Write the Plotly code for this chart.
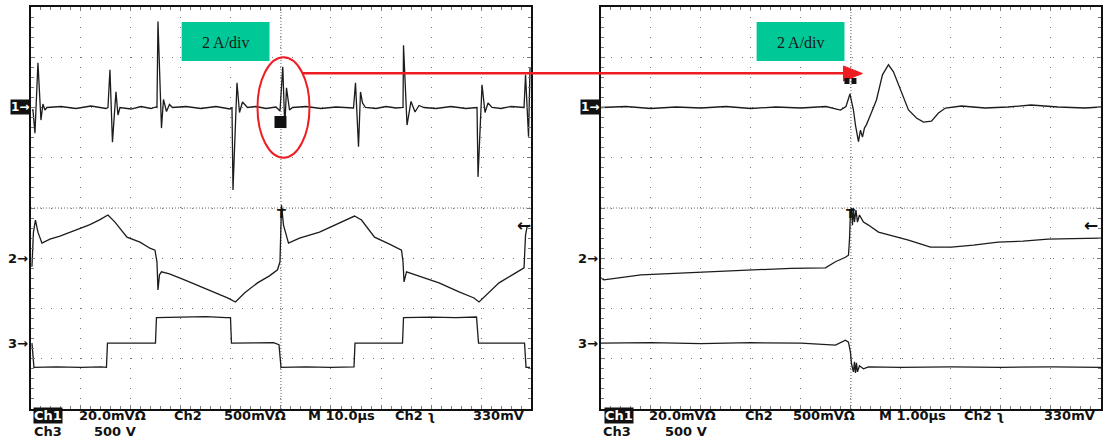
import plotly.graph_objects as go

W, H = 1103, 441

# ---------------- data (time in us, value in screen divisions) ----------------
# Left capture: 10 us/div
ch1_left_t = [-49.8, -49.6, -49.2, -48.6, -48.0, -47.6, -47.2, -46.8, -44, -41, -38, -35,
              -34.6, -34.2, -33.7, -33.0, -32.6, -32.2, -30, -28, -26, -25,
              -24.8, -24.6, -23.9, -23.5, -22.9, -22.3, -21.7, -19, -16, -13, -10.2,
              -9.8, -9.6, -8.8, -8.3, -7.7, -6.7, -5, -3, -1, -0.2,
              0.36, 0.76, 1.1, 1.7, 2.3, 5, 8, 11, 14.5,
              14.9, 15.5, 15.9, 16.3, 16.9, 19, 21, 23, 24.4,
              24.5, 25.2, 26.0, 26.8, 27.6, 28.6, 31, 34, 37, 39.2,
              39.4, 40.2, 40.8, 41.4, 42.2, 44, 46, 48.6,
              48.9, 49.5, 49.8]
ch1_left_v = [1.95, 1.95, 1.49, 2.89, 1.75, 2.07, 1.95, 2.0, 2.02, 1.98, 2.03, 1.98,
              2.0, 2.75, 1.31, 2.31, 1.85, 2.0, 1.97, 2.02, 1.98, 2.01,
              2.0, 3.71, 1.59, 2.16, 1.92, 2.06, 2.0, 2.02, 1.98, 2.02, 1.97,
              2.0, 0.36, 2.49, 1.90, 2.11, 2.0, 2.02, 1.98, 2.01, 1.93,
              2.81, 1.59, 2.39, 1.95, 2.0, 2.02, 1.98, 2.01, 1.99,
              2.49, 1.22, 2.31, 2.09, 2.0, 1.98, 2.02, 1.99, 2.0,
              3.24, 1.65, 2.12, 1.91, 2.04, 2.0, 1.98, 2.02, 1.98, 2.0,
              0.62, 2.45, 1.90, 2.09, 2.0, 1.98, 2.02, 2.0,
              2.65, 1.42, 2.8]

ch2_left_t = [-49.8, -49.5, -49.1, -48.6, -47.8, -46.2, -44.2, -41.2, -38.2, -36.2, -34.6,
              -33.2, -30.8, -28.2, -26.2, -25.2, -24.8, -24.6, -24.3, -23.9, -22.3,
              -19.3, -16.3, -13.3, -10.7, -9.1, -7.3, -4.7, -2.3, -0.7, -0.2,
              0.1, 0.5, 1.5, 3.7, 7.7, 11.7, 14.7, 16.1, 18.7, 21.7, 24.1, 24.4, 24.6,
              25.1, 27.6, 31.6, 35.6, 38.6, 39.6, 40.6, 43.6, 46.6, 48.6, 48.9, 49.2, 49.8]
ch2_left_v = [-1.17, -0.48, -0.24, -0.48, -0.70, -0.62, -0.56, -0.44, -0.33, -0.23, -0.14,
              -0.28, -0.58, -0.68, -0.80, -0.84, -1.07, -1.63, -1.33, -1.27, -1.31,
              -1.43, -1.55, -1.67, -1.79, -1.87, -1.69, -1.49, -1.35, -1.23, -1.07,
              0.06, -0.34, -0.70, -0.60, -0.48, -0.30, -0.16, -0.24, -0.58, -0.72, -0.84, -1.07, -1.47,
              -1.27, -1.35, -1.49, -1.67, -1.79, -1.87, -1.77, -1.49, -1.31, -1.19, -0.54, -0.38, -0.34]

ch3_left_t = [-49.8, -49.4, -45, -40, -36, -34.9, -34.7, -30, -26, -25.1, -24.9,
              -20, -15, -11, -10.1, -9.9, -5, -1.5, -0.4, 0.0, 5, 10, 14.6, 14.8,
              20, 24.3, 24.5, 30, 35, 39.1, 39.5, 45, 48.7, 49.0, 49.8]
ch3_left_v = [-2.69, -3.17, -3.16, -3.17, -3.16, -3.17, -2.69, -2.69, -2.68, -2.69, -2.18,
              -2.17, -2.16, -2.18, -2.18, -2.69, -2.69, -2.68, -2.72, -3.17, -3.16, -3.17, -3.16, -2.69,
              -2.69, -2.69, -2.18, -2.17, -2.18, -2.17, -2.69, -2.69, -2.69, -3.17, -3.17]

# Right capture: 1 us/div
ch1_right_t = [-5.0, -4.5, -4.0, -3.5, -3.0, -2.5, -2.0, -1.5, -1.0, -0.5, -0.21, -0.1,
               -0.02, 0.05, 0.09, 0.15, 0.19, 0.23, 0.27, 0.31, 0.39, 0.51, 0.63, 0.75,
               0.85, 0.99, 1.15, 1.31, 1.45, 1.61, 1.75, 1.89, 2.21, 2.68, 3.14, 3.60,
               4.14, 4.68, 5.0]
ch1_right_v = [2.0, 2.02, 1.98, 2.01, 1.99, 2.02, 1.98, 2.01, 1.99, 2.02, 1.95, 2.02,
               2.27, 1.95, 1.65, 1.32, 1.55, 1.41, 1.59, 1.66, 1.85, 2.15, 2.65, 2.85,
               2.71, 2.35, 1.95, 1.79, 1.71, 1.73, 1.89, 1.99, 2.03, 1.99, 2.01, 2.05,
               2.01, 1.99, 2.01]

ch2_right_t = [-5.0, -4.94, -4.2, -3.19, -2.5, -1.85, -1.2, -0.51, -0.31, -0.11, -0.05, -0.03,
               -0.01, 0.01, 0.03, 0.05, 0.07, 0.10, 0.13, 0.17, 0.25, 0.35, 0.55, 0.85,
               1.15, 1.59, 2.01, 2.45, 2.94, 3.44, 3.94, 4.44, 5.0]
ch2_right_v = [-1.39, -1.43, -1.33, -1.29, -1.25, -1.23, -1.20, -1.19, -1.07, -0.98, -0.94, -0.64,
               -0.08, 0.0, -0.34, 0.0, -0.28, -0.04, -0.28, -0.14, -0.28, -0.34, -0.48, -0.56,
               -0.64, -0.78, -0.78, -0.74, -0.68, -0.66, -0.62, -0.61, -0.60]

ch3_right_t = [-5.0, -4.0, -3.0, -2.0, -1.0, -0.31, -0.11, -0.05, -0.01, 0.01, 0.05, 0.07,
               0.09, 0.11, 0.13, 0.17, 0.25, 0.35, 1.0, 2.0, 3.0, 4.0, 5.0]
ch3_right_v = [-2.69, -2.68, -2.70, -2.68, -2.69, -2.73, -2.63, -2.67, -2.87, -3.10, -3.26, -3.06,
               -3.28, -3.08, -3.26, -3.14, -3.20, -3.16, -3.17, -3.16, -3.17, -3.16, -3.17]

left_readout = ["20.0mVΩ", "Ch2", "500mVΩ", "M 10.0µs", "Ch2 ʅ", "330mV"]
right_readout = ["20.0mVΩ", "Ch2", "500mVΩ", "M 1.00µs", "Ch2 ʅ", "330mV"]
ch3_scale = "500 V"
box_label = "2 A/div"

# ---------------- figure ----------------
TRACE = dict(color="#1c1c1c", width=1.3)
fig = go.Figure()
for t, v in [(ch1_left_t, ch1_left_v), (ch2_left_t, ch2_left_v), (ch3_left_t, ch3_left_v)]:
    fig.add_trace(go.Scatter(x=t, y=v, mode="lines", line=TRACE, xaxis="x", yaxis="y",
                             showlegend=False, hoverinfo="skip"))
for t, v in [(ch1_right_t, ch1_right_v), (ch2_right_t, ch2_right_v), (ch3_right_t, ch3_right_v)]:
    fig.add_trace(go.Scatter(x=t, y=v, mode="lines", line=TRACE, xaxis="x2", yaxis="y2",
                             showlegend=False, hoverinfo="skip"))

def px(x):
    return x / W

def py(y):
    return 1 - y / H

ydom = [py(409), py(7)]
xdomL = [px(31), px(532)]
xdomR = [px(602), 1.0]
GRID = "#7a7a7a"

def xax(dom, rng, dt, anchor):
    return dict(domain=dom, range=rng, anchor=anchor, showticklabels=False,
                showline=True, linecolor="#111", linewidth=2, mirror="allticks",
                ticks="inside", ticklen=4, tickcolor=GRID, tick0=0, dtick=dt,
                minor=dict(ticks="inside", ticklen=3, tickcolor=GRID, dtick=dt / 5, tick0=0, showgrid=False),
                showgrid=True, gridcolor=GRID, gridwidth=1, griddash="1px,9.02px",
                zeroline=False, fixedrange=True)

def yax(rng, anchor):
    return dict(domain=ydom, range=rng, anchor=anchor, showticklabels=False,
                showline=True, linecolor="#111", linewidth=2, mirror="allticks",
                ticks="inside", ticklen=4, tickcolor=GRID, tick0=0, dtick=1,
                minor=dict(ticks="inside", ticklen=3, tickcolor=GRID, dtick=0.2, tick0=0, showgrid=False),
                showgrid=True, gridcolor=GRID, gridwidth=1, griddash="1px,9.05px",
                zeroline=False, fixedrange=True)

yc_px = 208
def cross_x(over, rng, dt):
    return dict(overlaying=over, anchor="free", position=py(yc_px + 2), side="bottom", range=rng,
                showticklabels=False, showline=False, showgrid=False, zeroline=False,
                ticks="outside", ticklen=4, tickcolor="#555", tick0=0, dtick=dt / 5, fixedrange=True)

def cross_y(over, xc):
    return dict(overlaying=over, anchor="free", position=px(xc + 2), side="left", range=[-4, 4],
                showticklabels=False, showline=False, showgrid=False, zeroline=False,
                ticks="outside", ticklen=4, tickcolor="#555", tick0=0, dtick=0.2, fixedrange=True)

fig.update_layout(
    width=W, height=H, margin=dict(l=0, r=0, t=0, b=0),
    paper_bgcolor="white", plot_bgcolor="white",
    xaxis=xax(xdomL, [-50, 50], 10, "y"),
    yaxis=yax([-4, 4], "x"),
    xaxis2=xax(xdomR, [-5, 5], 1, "y2"),
    yaxis2=yax([-4, 4], "x2"),
    xaxis3=cross_x("x", [-50, 50], 10),
    yaxis3=cross_y("y", 281.5),
    xaxis4=cross_x("x2", [-5, 5], 1),
    yaxis4=cross_y("y2", 852.5),
)

shapes = []
anns = []
# dotted centre cross of each graticule
CROSS = dict(color="#666", width=1, dash="1px,2px")
for xr, yr in [("x", "y"), ("x2", "y2")]:
    shapes.append(dict(type="line", xref=f"{xr} domain", yref=yr, x0=0, x1=1, y0=0, y1=0,
                       line=CROSS, layer="below"))
    shapes.append(dict(type="line", xref=xr, yref=f"{yr} domain", x0=0, x1=0, y0=0, y1=1,
                       line=CROSS, layer="below"))
# green labels
for x0, x1 in [(182, 270), (758, 846)]:
    shapes.append(dict(type="rect", xref="paper", yref="paper", x0=px(x0), x1=px(x1),
                       y0=py(61), y1=py(22), fillcolor="#00C896", line=dict(width=0), layer="above"))
    anns.append(dict(text=box_label, xref="paper", yref="paper", x=px((x0 + x1) / 2), y=py(42),
                     xanchor="center", yanchor="middle", showarrow=False,
                     font=dict(family="Liberation Serif", size=16, color="#1a1a1a")))
# red ellipse and arrow
shapes.append(dict(type="circle", xref="x", yref="y", x0=-4.7, x1=5.7, y0=1.0, y1=3.0,
                   line=dict(color="#EE1D23", width=2)))
shapes.append(dict(type="line", xref="paper", yref="paper", x0=px(303), x1=px(848), y0=py(73.3), y1=py(73.3),
                   line=dict(color="#EE1D23", width=2.5)))
shapes.append(dict(type="path", xref="paper", yref="paper",
                   path=f"M {px(845)} {py(66)} L {px(864)} {py(73.5)} L {px(845)} {py(81)} Z",
                   fillcolor="#EE1D23", line=dict(color="#EE1D23", width=1)))
# trigger markers on ch1
shapes.append(dict(type="rect", xref="paper", yref="paper", x0=px(275), x1=px(287), y0=py(128), y1=py(116),
                   fillcolor="#111", line=dict(width=0)))
shapes.append(dict(type="rect", xref="paper", yref="paper", x0=px(846), x1=px(851), y0=py(84), y1=py(78),
                   fillcolor="#111", line=dict(width=0)))
shapes.append(dict(type="rect", xref="paper", yref="paper", x0=px(853), x1=px(858), y0=py(84), y1=py(78),
                   fillcolor="#111", line=dict(width=0)))

# channel ground markers
for xr, yr, edge in [("paper", "y", 30), ("paper", "y2", 601)]:
    anns.append(dict(text="<b>1→</b>", xref=xr, yref=yr, x=px(edge), y=2, xanchor="right", yanchor="middle",
                     showarrow=False, bgcolor="#111", borderpad=0,
                     font=dict(family="DejaVu Sans", size=12, color="white")))
    anns.append(dict(text="<b>2→</b>", xref=xr, yref=yr, x=px(edge), y=-1, xanchor="right", yanchor="middle",
                     showarrow=False, font=dict(family="DejaVu Sans", size=13, color="#111")))
    anns.append(dict(text="<b>3→</b>", xref=xr, yref=yr, x=px(edge), y=-2.7, xanchor="right", yanchor="middle",
                     showarrow=False, font=dict(family="DejaVu Sans", size=13, color="#111")))
# trigger level arrows
for xr, yr, xe in [("paper", "y", 534), ("paper", "y2", 1102)]:
    anns.append(dict(text="<b>←</b>", xref=xr, yref=yr, x=px(xe), y=-0.34, xanchor="right", yanchor="middle",
                     showarrow=False, font=dict(family="DejaVu Sans", size=17, color="#111")))
# trigger position T marks
for xc in [282, 852.5]:
    anns.append(dict(text="<b>T</b>", xref="paper", yref="paper", x=px(xc), y=py(213), xanchor="center",
                     yanchor="middle", showarrow=False, font=dict(family="DejaVu Sans", size=13, color="#111")))

# readouts
FONT = dict(family="DejaVu Sans", size=13, color="#111", weight="bold")
def readout(items, xs, y):
    for txt, x in zip(items, xs):
        anns.append(dict(text=txt, xref="paper", yref="paper", x=px(x), y=py(y), xanchor="left",
                         yanchor="middle", showarrow=False, font=FONT, borderpad=0))

ROW1, ROW2 = 415.5, 431.5
for x0, items, xs, x3a, x3b in [
    (33, left_readout, [78, 173, 223, 308, 395, 473], 33, 93),
    (605, right_readout, [649, 745, 793, 880, 965, 1045], 603, 665),
]:
    anns.append(dict(text="Ch1", xref="paper", yref="paper", x=px(x0), y=py(ROW1), xanchor="left",
                     yanchor="middle", showarrow=False, bgcolor="#111", borderpad=0,
                     font=dict(family="DejaVu Sans", size=13, color="white", weight="bold")))
    readout(items, xs, ROW1)
    readout(["Ch3", ch3_scale], [x3a, x3b], ROW2)

fig.update_layout(shapes=shapes, annotations=anns)
fig.write_html("out.html")
